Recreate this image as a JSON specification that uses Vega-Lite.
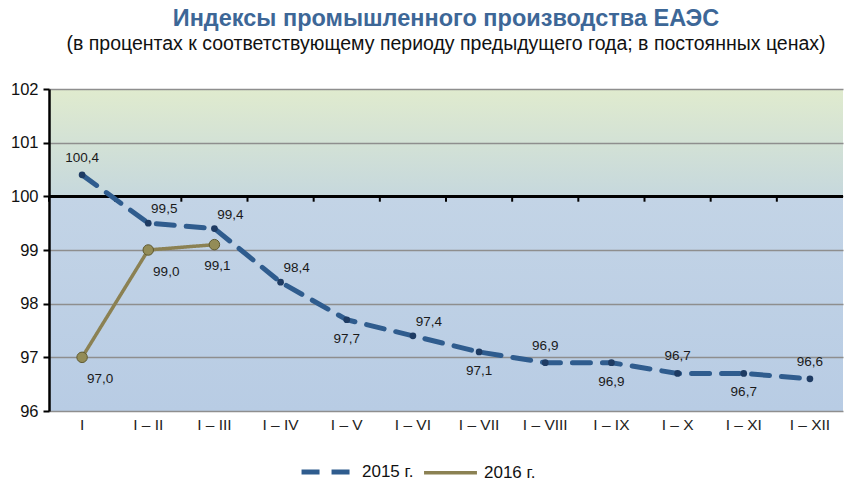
{
  "$schema": "https://vega.github.io/schema/vega-lite/v6.json",
  "width": 794,
  "height": 322,
  "autosize": {"type": "none"},
  "padding": {"left": 49, "top": 89, "right": 1, "bottom": 70},
  "background": "white",
  "view": {
    "stroke": null,
    "fill": {
      "gradient": "linear", "x1": 0, "y1": 0, "x2": 0, "y2": 1,
      "stops": [
        {"offset": 0, "color": "#e0ebce"},
        {"offset": 0.333, "color": "#c6d8dd"},
        {"offset": 0.334, "color": "#c3d4e6"},
        {"offset": 1, "color": "#b8cce4"}
      ]
    }
  },
  "title": {
    "text": "Индексы промышленного производства ЕАЭС",
    "subtitle": "(в процентах к соответствующему периоду предыдущего года; в постоянных ценах)",
    "anchor": "middle",
    "font": "Liberation Sans",
    "fontSize": 23.5,
    "fontWeight": "bold",
    "color": "#3d6797",
    "subtitleFont": "Liberation Sans",
    "subtitleFontSize": 19.5,
    "subtitleColor": "#111111",
    "subtitlePadding": 4,
    "offset": 28
  },
  "config": {
    "locale": {"number": {"decimal": ",", "thousands": " ", "grouping": [3], "currency": ["", ""]}},
    "font": "Liberation Sans"
  },
  "data": {
    "values": [
      {"period": "I", "year": "2015 г.", "value": 100.4},
      {"period": "I – II", "year": "2015 г.", "value": 99.5},
      {"period": "I – III", "year": "2015 г.", "value": 99.4},
      {"period": "I – IV", "year": "2015 г.", "value": 98.4},
      {"period": "I – V", "year": "2015 г.", "value": 97.7},
      {"period": "I – VI", "year": "2015 г.", "value": 97.4},
      {"period": "I – VII", "year": "2015 г.", "value": 97.1},
      {"period": "I – VIII", "year": "2015 г.", "value": 96.9},
      {"period": "I – IX", "year": "2015 г.", "value": 96.9},
      {"period": "I – X", "year": "2015 г.", "value": 96.7},
      {"period": "I – XI", "year": "2015 г.", "value": 96.7},
      {"period": "I – XII", "year": "2015 г.", "value": 96.6},
      {"period": "I", "year": "2016 г.", "value": 97.0},
      {"period": "I – II", "year": "2016 г.", "value": 99.0},
      {"period": "I – III", "year": "2016 г.", "value": 99.1}
    ]
  },
  "encoding": {
    "x": {
      "field": "period", "type": "ordinal",
      "sort": ["I", "I – II", "I – III", "I – IV", "I – V", "I – VI", "I – VII", "I – VIII", "I – IX", "I – X", "I – XI", "I – XII"],
      "scale": {"type": "band", "paddingInner": 0, "paddingOuter": 0},
      "axis": {"title": null, "labelAngle": 0, "domain": false, "ticks": false, "grid": false,
               "labelFontSize": 15.5, "labelColor": "#222222", "labelPadding": 6}
    },
    "y": {
      "field": "value", "type": "quantitative",
      "scale": {"domain": [96, 102], "nice": false, "zero": false},
      "axis": {"title": null, "values": [96, 97, 98, 99, 100, 101, 102], "format": "d",
               "domainColor": "#000000", "domainWidth": 2.5,
               "tickColor": "#000000", "tickWidth": 2, "tickSize": 6,
               "labelFontSize": 16.5, "labelColor": "#111111", "labelPadding": 5,
               "grid": true, "gridColor": "#8e8e8e", "gridWidth": 1.5}
    }
  },
  "layer": [
    {
      "mark": {"type": "rule", "color": "#000000", "strokeWidth": 2},
      "encoding": {"x": null, "y": {"datum": 100, "type": "quantitative"}}
    },
    {
      "transform": [{"filter": "datum.year == '2015 г.'"}],
      "mark": {"type": "rule", "color": "#000000", "strokeWidth": 2},
      "encoding": {
        "x": {"field": "period", "type": "ordinal", "bandPosition": 0},
        "y": {"datum": 100, "type": "quantitative"},
        "y2": {"datum": 99.9}
      }
    },
    {
      "mark": {"type": "line", "strokeCap": "round"},
      "encoding": {
        "x": {"field": "period", "type": "ordinal", "bandPosition": 0.5},
        "color": {"field": "year", "type": "nominal",
                  "scale": {"domain": ["2015 г.", "2016 г."], "range": ["#2f5c8e", "#8b8153"]},
                  "legend": {"title": null, "orient": "none", "direction": "horizontal",
                             "legendX": 250, "legendY": 354, "symbolType": "stroke",
                             "symbolSize": 2800, "symbolStrokeWidth": 5, "labelFontSize": 17,
                             "labelColor": "#111111", "columnPadding": 3, "labelOffset": 5}},
        "strokeDash": {"field": "year", "type": "nominal",
                       "scale": {"domain": ["2015 г.", "2016 г."], "range": [[18, 12], [1, 0]]}},
        "strokeWidth": {"field": "year", "type": "nominal",
                        "scale": {"domain": ["2015 г.", "2016 г."], "range": [5, 3.5]}, "legend": null}
      }
    },
    {
      "transform": [{"filter": "datum.year == '2015 г.'"}],
      "mark": {"type": "point", "filled": true, "color": "#1e3b63", "size": 45, "opacity": 1},
      "encoding": {"x": {"field": "period", "type": "ordinal", "bandPosition": 0.5}}
    },
    {
      "transform": [{"filter": "datum.year == '2016 г.'"}],
      "mark": {"type": "point", "filled": true, "fill": "#938c57", "stroke": "#5f5a30", "strokeWidth": 1, "size": 110, "opacity": 1},
      "encoding": {"x": {"field": "period", "type": "ordinal", "bandPosition": 0.5}}
    },
    {
      "transform": [{"filter": "datum.year == '2015 г.' && indexof(['I', 'I – VIII', 'I – X', 'I – XII'], datum.period) >= 0"}],
      "mark": {"type": "text", "fontSize": 13.5, "color": "#1a1a1a", "dy": -17},
      "encoding": {"x": {"field": "period", "type": "ordinal", "bandPosition": 0.5},
                   "text": {"field": "value", "type": "quantitative", "format": ".1f"}}
    },
    {
      "transform": [{"filter": "datum.year == '2015 г.' && indexof(['I – II', 'I – III', 'I – IV', 'I – VI'], datum.period) >= 0"}],
      "mark": {"type": "text", "fontSize": 13.5, "color": "#1a1a1a", "dx": 16, "dy": -14},
      "encoding": {"x": {"field": "period", "type": "ordinal", "bandPosition": 0.5},
                   "text": {"field": "value", "type": "quantitative", "format": ".1f"}}
    },
    {
      "transform": [{"filter": "datum.year == '2015 г.' && indexof(['I – V', 'I – VII', 'I – IX', 'I – XI'], datum.period) >= 0"}],
      "mark": {"type": "text", "fontSize": 13.5, "color": "#1a1a1a", "dy": 19},
      "encoding": {"x": {"field": "period", "type": "ordinal", "bandPosition": 0.5},
                   "text": {"field": "value", "type": "quantitative", "format": ".1f"}}
    },
    {
      "transform": [{"filter": "datum.year == '2016 г.' && datum.period != 'I – III'"}],
      "mark": {"type": "text", "fontSize": 13.5, "color": "#1a1a1a", "dx": 18, "dy": 22},
      "encoding": {"x": {"field": "period", "type": "ordinal", "bandPosition": 0.5},
                   "text": {"field": "value", "type": "quantitative", "format": ".1f"}}
    },
    {
      "transform": [{"filter": "datum.year == '2016 г.' && datum.period == 'I – III'"}],
      "mark": {"type": "text", "fontSize": 13.5, "color": "#1a1a1a", "dx": 3, "dy": 21},
      "encoding": {"x": {"field": "period", "type": "ordinal", "bandPosition": 0.5},
                   "text": {"field": "value", "type": "quantitative", "format": ".1f"}}
    }
  ]
}
